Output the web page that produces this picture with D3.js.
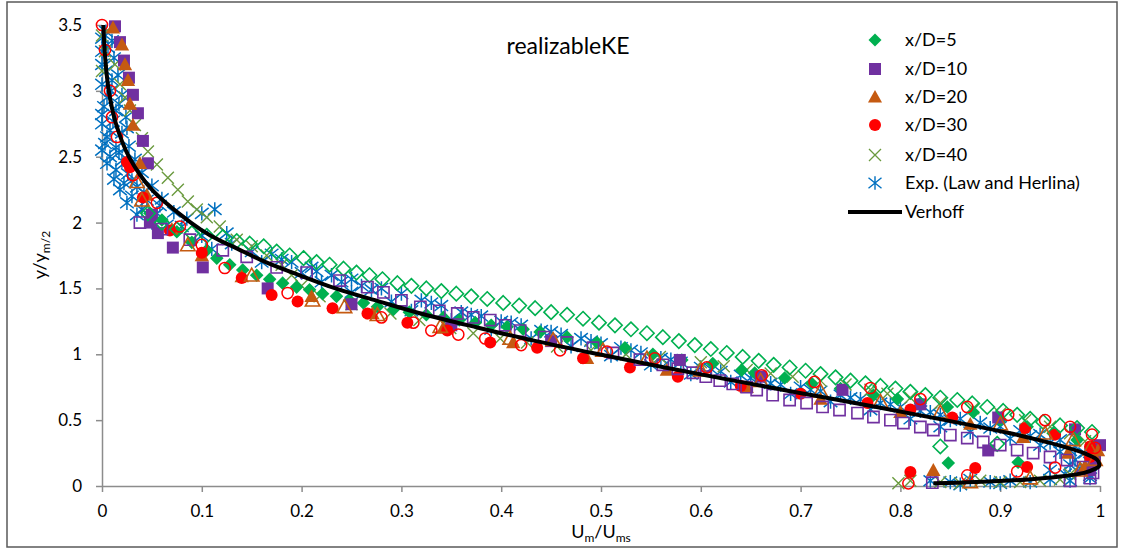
<!DOCTYPE html>
<html><head><meta charset="utf-8">
<script src="https://cdn.jsdelivr.net/npm/d3@7"></script>
<style>
body{margin:0;background:#fff}
svg{display:block}
text{font-family:Lato,"Open Sans",sans-serif;fill:#000}
</style>
</head><body>
<svg id="chart" width="1122" height="550"></svg>
<script>
const xTicks=[0,0.1,0.2,0.3,0.4,0.5,0.6,0.7,0.8,0.9,1];
const yTicks=[0,0.5,1,1.5,2,2.5,3,3.5];
const titleText="realizableKE";
const legendLabels=["x/D=5","x/D=10","x/D=20","x/D=30","x/D=40","Exp. (Law and Herlina)","Verhoff"];

const verhoff=[[0.833,0.02],[0.876,0.03],[0.928,0.05],[0.958,0.07],[0.984,0.1],[0.995,0.13],[0.999,0.15],[0.999,0.175],[0.997,0.2],[0.984,0.25],[0.963,0.3],[0.938,0.35],[0.910,0.4],[0.845,0.5],[0.776,0.6],[0.704,0.7],[0.633,0.8],[0.564,0.9],[0.498,1.0],[0.435,1.1],[0.378,1.2],[0.324,1.3],[0.278,1.4],[0.234,1.5],[0.198,1.6],[0.164,1.7],[0.136,1.8],[0.109,1.9],[0.089,2.0],[0.050,2.25],[0.027,2.5],[0.014,2.75],[0.0068,3.0],[0.0032,3.25],[0.0013,3.5]];

const d5Filled=[[0.048,2.07],[0.06,2.02],[0.075,1.93],[0.09,1.85],[0.105,1.79],[0.115,1.73],[0.128,1.68],[0.141,1.64],[0.155,1.6],[0.168,1.57],[0.181,1.54],[0.195,1.51],[0.208,1.49],[0.221,1.46],[0.235,1.44],[0.248,1.41],[0.262,1.39],[0.276,1.36],[0.292,1.34],[0.308,1.32],[0.325,1.3],[0.342,1.28],[0.358,1.26],[0.374,1.24],[0.39,1.22],[0.406,1.21],[0.422,1.19],[0.439,1.17],[0.466,1.13],[0.496,1.09],[0.524,1.05],[0.552,1.0],[0.581,0.957],[0.612,0.93],[0.641,0.88],[0.654,0.858],[0.684,0.82],[0.711,0.78],[0.74,0.74],[0.773,0.69],[0.797,0.66],[0.82,0.63],[0.847,0.6],[0.873,0.56],[0.9,0.5],[0.927,0.45],[0.953,0.4],[0.977,0.35],[0.993,0.3],[0.848,0.175],[0.918,0.18]];

const d5Open=[[0.046,2.07],[0.06,2.0],[0.075,1.95],[0.09,1.92],[0.105,1.9],[0.121,1.89],[0.135,1.86],[0.148,1.84],[0.162,1.82],[0.175,1.78],[0.188,1.75],[0.202,1.73],[0.215,1.7],[0.228,1.68],[0.242,1.65],[0.255,1.62],[0.268,1.6],[0.281,1.57],[0.296,1.54],[0.31,1.52],[0.325,1.5],[0.34,1.48],[0.355,1.46],[0.37,1.44],[0.386,1.42],[0.402,1.39],[0.418,1.37],[0.434,1.35],[0.45,1.32],[0.466,1.3],[0.482,1.27],[0.498,1.24],[0.514,1.22],[0.53,1.19],[0.546,1.16],[0.562,1.13],[0.578,1.1],[0.594,1.07],[0.61,1.04],[0.626,1.01],[0.642,0.98],[0.658,0.95],[0.673,0.92],[0.689,0.9],[0.705,0.875],[0.72,0.85],[0.735,0.825],[0.75,0.8],[0.765,0.78],[0.78,0.76],[0.795,0.74],[0.81,0.715],[0.825,0.69],[0.84,0.67],[0.857,0.653],[0.872,0.627],[0.887,0.6],[0.903,0.57],[0.917,0.54],[0.93,0.51],[0.943,0.486],[0.96,0.46],[0.977,0.44],[0.992,0.41],[0.84,0.30],[0.897,0.32]];

const d10Filled=[[0.013,3.49],[0.018,3.37],[0.022,3.23],[0.027,3.1],[0.031,2.97],[0.036,2.83],[0.041,2.62],[0.046,2.45],[0.05,2.06],[0.048,2.0],[0.056,1.92],[0.071,1.81],[0.101,1.66],[0.166,1.5],[0.25,1.38],[0.35,1.22],[0.45,1.1],[0.579,0.957],[0.66,0.83],[0.742,0.73],[0.82,0.62],[0.898,0.52],[0.975,0.43],[1.0,0.31],[0.888,0.27],[0.995,0.2],[0.99,0.12]];

const d10Open=[[0.038,2.0],[0.06,1.95],[0.088,1.87],[0.121,1.79],[0.145,1.74],[0.175,1.66],[0.205,1.62],[0.238,1.56],[0.266,1.51],[0.282,1.47],[0.3,1.41],[0.319,1.36],[0.338,1.33],[0.356,1.31],[0.372,1.28],[0.389,1.26],[0.404,1.22],[0.419,1.18],[0.443,1.13],[0.466,1.09],[0.492,1.05],[0.512,1.01],[0.539,0.96],[0.562,0.92],[0.577,0.89],[0.592,0.86],[0.605,0.83],[0.619,0.80],[0.632,0.775],[0.646,0.75],[0.656,0.729],[0.672,0.69],[0.689,0.653],[0.706,0.63],[0.722,0.60],[0.739,0.577],[0.757,0.554],[0.773,0.524],[0.79,0.50],[0.803,0.478],[0.82,0.448],[0.833,0.425],[0.85,0.387],[0.867,0.364],[0.883,0.334],[0.9,0.311],[0.917,0.273],[0.933,0.25],[0.95,0.22],[0.967,0.197],[0.983,0.144],[0.993,0.099],[0.99,0.06],[0.97,0.04],[0.832,0.025]];

const d20Filled=[[0.011,3.48],[0.02,3.35],[0.023,3.2],[0.026,3.08],[0.028,2.9],[0.031,2.74],[0.038,2.45],[0.045,2.21],[0.07,1.95],[0.1,1.75],[0.14,1.59],[0.21,1.44],[0.271,1.31],[0.342,1.2],[0.412,1.09],[0.486,0.97],[0.566,0.88],[0.646,0.75],[0.72,0.66],[0.80,0.56],[0.87,0.47],[0.923,0.37],[0.968,0.25],[0.998,0.27],[0.985,0.15],[0.833,0.12]];

const d20Open=[[0.035,2.31],[0.04,2.17],[0.086,1.83],[0.15,1.6],[0.211,1.41],[0.243,1.36],[0.276,1.30],[0.339,1.21],[0.409,1.12],[0.452,1.11],[0.502,1.03],[0.546,0.97],[0.6,0.88],[0.66,0.8],[0.72,0.72],[0.78,0.64],[0.84,0.56],[0.9,0.47],[0.945,0.4],[0.973,0.35],[0.99,0.28],[0.995,0.2],[0.98,0.12],[0.93,0.06],[0.87,0.03]];

const d30Filled=[[0.025,2.46],[0.028,2.42],[0.041,2.19],[0.068,1.94],[0.1,1.77],[0.14,1.58],[0.17,1.45],[0.196,1.40],[0.231,1.35],[0.266,1.31],[0.306,1.24],[0.346,1.18],[0.389,1.09],[0.436,1.05],[0.482,0.97],[0.529,0.90],[0.577,0.83],[0.64,0.76],[0.7,0.7],[0.767,0.63],[0.81,0.58],[0.852,0.52],[0.925,0.44],[0.955,0.39],[0.99,0.3],[0.99,0.22],[0.81,0.106],[0.875,0.136],[0.927,0.145]];

const d30Open=[[0.0,3.5],[0.003,3.31],[0.008,3.0],[0.01,2.8],[0.015,2.65],[0.031,2.36],[0.055,2.15],[0.078,1.97],[0.10,1.83],[0.123,1.655],[0.186,1.465],[0.28,1.28],[0.312,1.24],[0.33,1.18],[0.357,1.15],[0.384,1.12],[0.42,1.07],[0.459,1.03],[0.506,1.02],[0.554,0.97],[0.606,0.90],[0.661,0.84],[0.714,0.79],[0.77,0.744],[0.82,0.66],[0.867,0.60],[0.908,0.54],[0.945,0.50],[0.97,0.45],[0.992,0.39],[0.995,0.29],[0.808,0.02],[0.867,0.08],[0.917,0.11],[0.955,0.14]];

const d40=[[0.0,3.42],[0.003,3.3],[0.013,3.2],[0.0,3.15],[0.018,3.05],[0.023,2.95],[0.028,2.85],[0.033,2.74],[0.04,2.64],[0.046,2.54],[0.055,2.44],[0.066,2.34],[0.076,2.25],[0.086,2.16],[0.095,2.1],[0.105,2.04],[0.118,1.97],[0.135,1.87],[0.15,1.82],[0.165,1.75],[0.18,1.68],[0.19,1.6],[0.2,1.52],[0.218,1.44],[0.25,1.38],[0.289,1.31],[0.318,1.26],[0.349,1.2],[0.372,1.16],[0.399,1.12],[0.426,1.09],[0.456,1.06],[0.49,1.03],[0.525,1.0],[0.559,0.98],[0.6,0.94],[0.623,0.91],[0.646,0.88],[0.67,0.855],[0.692,0.83],[0.72,0.8],[0.745,0.77],[0.77,0.73],[0.787,0.7],[0.81,0.67],[0.84,0.63],[0.873,0.59],[0.9,0.55],[0.925,0.5],[0.95,0.45],[0.97,0.4],[0.985,0.34],[0.995,0.28],[0.995,0.2],[0.985,0.14],[0.97,0.09],[0.798,0.02],[0.81,0.04],[0.84,0.03],[0.86,0.02],[0.88,0.04],[0.9,0.03],[0.92,0.03],[0.94,0.04],[0.96,0.05]];

const expData=[[0.004,3.45],[0.01,3.38],[0.0,3.3],[0.012,3.25],[0.004,3.15],[0.016,3.12],[0.0,3.05],[0.009,3.0],[0.02,2.97],[0.002,2.88],[0.014,2.85],[0.024,2.8],[0.0,2.75],[0.008,2.7],[0.02,2.68],[0.003,2.6],[0.014,2.57],[0.027,2.58],[0.008,2.5],[0.02,2.47],[0.033,2.48],[0.014,2.4],[0.026,2.37],[0.04,2.38],[0.022,2.3],[0.035,2.27],[0.05,2.28],[0.03,2.2],[0.045,2.17],[0.06,2.18],[0.04,2.1],[0.055,2.07],[0.072,2.08],[0.1,2.07],[0.113,2.1],[0.05,2.0],[0.065,1.98],[0.08,1.97],[0.1,1.9],[0.125,1.92],[0.13,1.84],[0.11,1.8],[0.15,1.78],[0.17,1.76],[0.16,1.7],[0.19,1.7],[0.21,1.66],[0.2,1.62],[0.23,1.6],[0.25,1.57],[0.22,1.55],[0.26,1.52],[0.28,1.5],[0.25,1.47],[0.3,1.46],[0.29,1.4],[0.32,1.41],[0.34,1.37],[0.31,1.33],[0.36,1.32],[0.38,1.29],[0.35,1.26],[0.4,1.25],[0.42,1.22],[0.39,1.19],[0.44,1.18],[0.46,1.15],[0.43,1.12],[0.48,1.12],[0.5,1.08],[0.47,1.06],[0.52,1.05],[0.54,1.01],[0.51,0.99],[0.56,0.97],[0.58,0.94],[0.55,0.92],[0.6,0.9],[0.62,0.87],[0.59,0.85],[0.64,0.84],[0.66,0.81],[0.63,0.79],[0.68,0.77],[0.7,0.75],[0.72,0.72],[0.69,0.7],[0.74,0.69],[0.76,0.66],[0.73,0.64],[0.78,0.63],[0.8,0.6],[0.77,0.58],[0.82,0.57],[0.84,0.54],[0.81,0.51],[0.86,0.51],[0.88,0.48],[0.84,0.45],[0.9,0.45],[0.87,0.41],[0.92,0.42],[0.94,0.39],[0.91,0.36],[0.96,0.35],[0.94,0.31],[0.975,0.3],[0.96,0.26],[0.985,0.25],[0.975,0.2],[0.99,0.18],[0.98,0.13],[0.965,0.09],[0.99,0.08],[0.83,0.04],[0.85,0.03],[0.87,0.05],[0.89,0.03],[0.91,0.04],[0.93,0.03],[0.95,0.05],[0.97,0.04],[0.99,0.06],[0.86,0.01],[0.9,0.02],
[0.0,3.4],[0.006,3.33],[0.0,3.2],[0.01,3.08],[0.005,2.95],[0.017,2.9],[0.0,2.82],[0.011,2.77],[0.025,2.72],[0.005,2.65],[0.0,2.55],[0.017,2.53],[0.005,2.45],[0.012,2.33],[0.03,2.32],[0.018,2.25],[0.042,2.23],[0.025,2.15],[0.058,2.13],[0.035,2.06],[0.085,2.03],[0.18,1.72],[0.215,1.63],[0.24,1.55],[0.27,1.49],[0.33,1.39],[0.37,1.3],[0.41,1.24],[0.45,1.17],[0.49,1.1],[0.53,1.03],[0.57,0.96],[0.61,0.89],[0.65,0.82],[0.67,0.78],[0.71,0.73],[0.75,0.67],[0.79,0.62],[0.83,0.56],[0.85,0.5],[0.89,0.44],[0.93,0.38],[0.95,0.33],[0.97,0.27],[0.99,0.22],[0.97,0.16],[0.95,0.12]];

// ---------- drawing ----------
const svg=d3.select("#chart");
const W=1122,H=550;
const x=d3.scaleLinear().domain([0,1]).range([102,1100]);
const y=d3.scaleLinear().domain([0,3.5]).range([486,25]);

svg.append("rect").attr("x",0).attr("y",0).attr("width",W).attr("height",H).attr("fill","#fff");
svg.append("rect").attr("x",7).attr("y",2).attr("width",1110).attr("height",545)
  .attr("fill","none").attr("stroke","#595959").attr("stroke-width",1.5);

const axisColor="#8c8c8c";
const gx=svg.append("g").attr("transform","translate(0,486)")
  .call(d3.axisBottom(x).tickValues(xTicks).tickSize(6).tickSizeOuter(0).tickPadding(13).tickFormat(d=>String(d)));
const gy=svg.append("g").attr("transform","translate(102,0)")
  .call(d3.axisLeft(y).tickValues(yTicks).tickSize(6).tickSizeOuter(0).tickPadding(14).tickFormat(d=>String(d)));
[gx,gy].forEach(g=>{
  g.select(".domain").attr("stroke",axisColor).attr("stroke-width",1.5);
  g.selectAll(".tick line").attr("stroke",axisColor).attr("stroke-width",1.5);
  g.selectAll(".tick text").attr("font-size",17).attr("font-family","Lato, 'Open Sans', sans-serif").attr("fill","#000");
});

function pDiamond(r){return `M0,${-r}L${r},0L0,${r}L${-r},0Z`;}
function pSquare(r){return `M${-r},${-r}H${r}V${r}H${-r}Z`;}
function pTriangle(r){return `M0,${-r}L${r},${r*0.8}L${-r},${r*0.8}Z`;}
function pCircle(r){return `M${r},0A${r},${r} 0 1,1 ${-r},0A${r},${r} 0 1,1 ${r},0Z`;}
function pX(r){return `M${-r},${-r}L${r},${r}M${r},${-r}L${-r},${r}`;}
function pStar(r){return `M${-r},${-r*0.8}L${r},${r*0.8}M${r},${-r*0.8}L${-r},${r*0.8}M0,${-r*1.05}L0,${r*1.05}`;}

const C={g:"#00B050",p:"#7030A0",o:"#C55A11",r:"#FF0000",ol:"#6A9A3E",b:"#0070C0"};

function drawSeries(data,path,fill,stroke,sw){
  svg.append("g").selectAll("path").data(data).join("path")
    .attr("transform",d=>`translate(${x(d[0])},${y(d[1])})`)
    .attr("d",path)
    .attr("fill",fill).attr("stroke",stroke).attr("stroke-width",sw);
}

const plot=[
  [expData,pStar(6.8),"none",C.b,1.5],
  [d40,pX(6),"none",C.ol,1.4],
  [d5Filled,pDiamond(6.8),C.g,"none",0],
  [d10Filled,pSquare(6),C.p,"none",0],
  [d20Filled,pTriangle(7.2),C.o,"none",0],
  [d30Filled,pCircle(6),C.r,"none",0],
  [d5Open,pDiamond(7.2),"none",C.g,1.6],
  [d10Open,pSquare(5.6),"none",C.p,1.6],
  [d20Open,pTriangle(7.2),"none",C.o,1.6],
  [d30Open,pCircle(5.6),"none",C.r,1.5]
];
plot.forEach(s=>drawSeries(...s));

const line=d3.line().x(d=>x(d[0])).y(d=>y(d[1])).curve(d3.curveCatmullRom.alpha(0.5));
svg.append("path").datum(verhoff).attr("d",line)
  .attr("fill","none").attr("stroke","#000").attr("stroke-width",4);

svg.append("text").attr("x",568).attr("y",54).attr("text-anchor","middle")
  .attr("font-size",23).text(titleText);

const xt=svg.append("text").attr("x",601).attr("y",538).attr("text-anchor","middle").attr("font-size",18);
xt.append("tspan").text("U");
xt.append("tspan").attr("font-size",12).attr("dy",4).text("m");
xt.append("tspan").attr("dy",-4).text("/U");
xt.append("tspan").attr("font-size",12).attr("dy",4).text("ms");

const yt=svg.append("text").attr("transform","translate(46,255) rotate(-90)").attr("text-anchor","middle").attr("font-size",18);
yt.append("tspan").text("y/y");
yt.append("tspan").attr("font-size",12).attr("dy",4).text("m/2");

const legY=[40,69,97,125,155,183,212];
const legMarkers=[
  [pDiamond(6.5),C.g,"none",0],
  [pSquare(6),C.p,"none",0],
  [pTriangle(7),C.o,"none",0],
  [pCircle(6),C.r,"none",0],
  [pX(6),"none",C.ol,1.3],
  [pStar(6.5),"none",C.b,1.4]
];
const lg=svg.append("g");
legMarkers.forEach((m,i)=>{
  lg.append("path").attr("transform",`translate(875,${legY[i]})`).attr("d",m[0])
    .attr("fill",m[1]).attr("stroke",m[2]).attr("stroke-width",m[3]);
});
lg.append("line").attr("x1",848).attr("x2",902).attr("y1",legY[6]).attr("y2",legY[6])
  .attr("stroke","#000").attr("stroke-width",4);
legendLabels.forEach((t,i)=>{
  lg.append("text").attr("x",905).attr("y",legY[i]+6).attr("font-size",18).text(t);
});
</script>
</body></html>
